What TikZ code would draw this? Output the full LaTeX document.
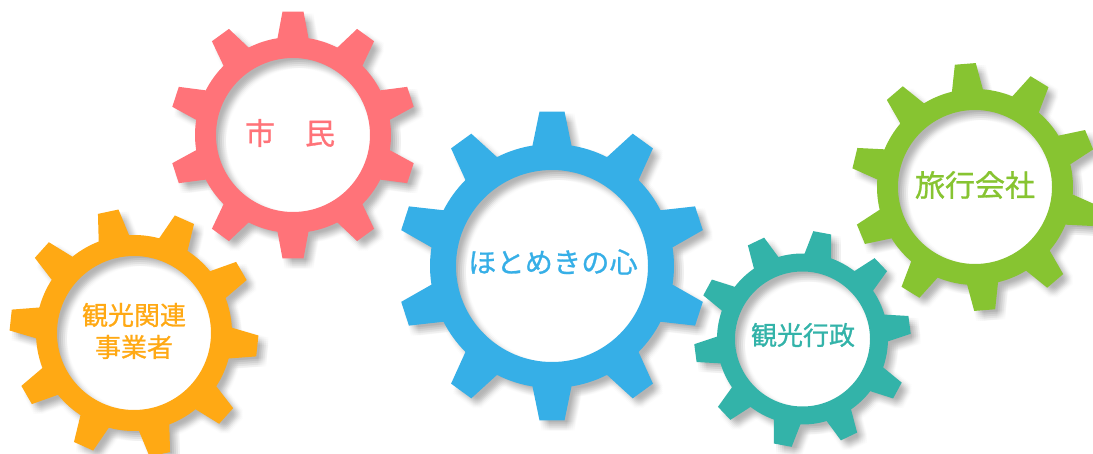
\documentclass[tikz,border=0pt]{standalone}
\usepackage{fontspec}
\newfontfamily\cjk[FakeBold=0.9]{Noto Sans CJK JP}
\newfontfamily\cjkspaced[FakeBold=0.9,LetterSpace=1]{Noto Sans CJK JP}
\definecolor{gearred}{HTML}{FF7379}
\definecolor{gearblue}{HTML}{36AFE7}
\definecolor{gearorange}{HTML}{FFA914}
\definecolor{gearteal}{HTML}{33B3A9}
\definecolor{geargreen}{HTML}{87C431}
\tikzset{gearlabel/.style={inner sep=0pt,align=center,font=\cjk\fontsize{26}{32}\selectfont}}
\newcommand{\gearshape}{%
  (\gRot+\da:\gRoot pt)
  \foreach \ang [evaluate=\ang as \ang using \gRot-36*\ang] in {0,...,9}{
    -- (\ang+\da:\gRoot pt) -- (\ang+\dt:\tiprad pt) -- (\ang-\dt:\tiprad pt) -- (\ang-\da:\gRoot pt)
    arc[start angle=\ang-\da, end angle=\ang-36+\da, radius=\gRoot pt]
  } -- cycle
  (0,0) circle[radius=\gIn pt]}
% #1 x, #2 y (image pixels), #3 colour, #4 rotation, #5 inner radius, #6 root radius, #7 tip radius, #8 base half width, #9 tip half width
\newcommand{\gear}[9]{%
  \pgfmathsetmacro{\gRot}{#4}%
  \pgfmathsetmacro{\gIn}{#5}%
  \pgfmathsetmacro{\gRoot}{#6}%
  \pgfmathsetmacro{\da}{asin(#8/#6)}%
  \pgfmathsetmacro{\dt}{atan(#9/#7)}%
  \pgfmathsetmacro{\tiprad}{veclen(#7,#9)}%
  \foreach \sx in {2,4,6,8,10}{\foreach \sy in {2,4,6,8,10}{
    \fill[black,fill opacity=0.012,even odd rule,shift={(#1+\sx,453-#2-\sy)}] \gearshape;
  }}
  \fill[#3,even odd rule,shift={(#1,453-#2)}] \gearshape;
}
\begin{document}
\begin{tikzpicture}[x=1pt,y=1pt]
\useasboundingbox (0,0) rectangle (1093,453);
\clip (0,0) rectangle (1093,453);
\fill[white] (0,0) rectangle (1093,453);
\gear{293}{135}{gearred}{90}{77}{98}{123.5}{15.5}{10.5}
\gear{134}{333}{gearorange}{102}{77}{98}{124}{15.5}{10.5}
\gear{552}{266}{gearblue}{90}{96}{122}{154.5}{19.5}{12.5}
\gear{802.5}{339}{gearteal}{79.5}{67.5}{85.5}{108}{13.5}{9}
\gear{975}{187}{geargreen}{94.5}{77}{98}{123.5}{15.5}{10.5}
\node[gearlabel,text=gearred,font=\cjk\fontsize{30}{32}\selectfont] (shimin) at (290,453-133) {市　民};
\node[gearlabel,text=gearorange] (kanko) at (134,453-331) {観光関連\\事業者};
\node[gearlabel,text=gearblue,font=\cjkspaced\fontsize{28}{32}\selectfont] (hotomeki) at (553,453-262) {ほとめきの心};
\node[gearlabel,text=gearteal] (gyosei) at (803,453-335) {観光行政};
\node[gearlabel,text=geargreen,font=\cjk\fontsize{30}{32}\selectfont] (ryoko) at (975,453-185) {旅行会社};
\end{tikzpicture}
\end{document}
